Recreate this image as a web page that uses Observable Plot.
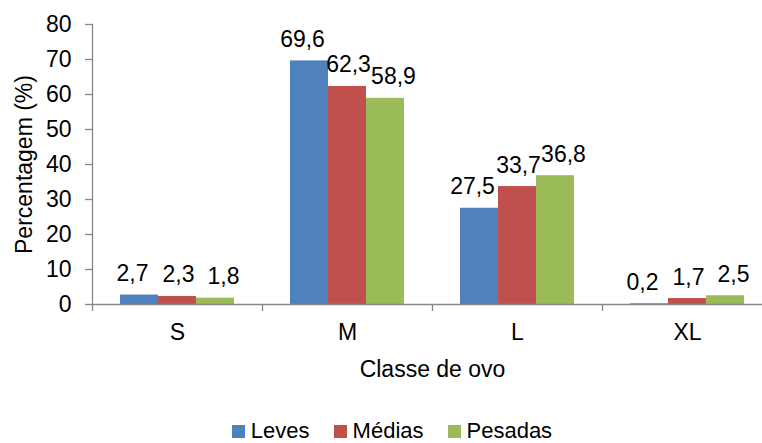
<!DOCTYPE html>
<html>
<head>
<meta charset="utf-8">
<script src="https://cdn.jsdelivr.net/npm/d3@7"></script>
<script src="https://cdn.jsdelivr.net/npm/@observablehq/plot@0.6"></script>
<style>
  html, body { margin: 0; padding: 0; background: white; overflow: hidden; width: 762px; height: 443px; }
  #legend { display: flex; justify-content: center; padding-left: 22px; font-family: "Liberation Sans", Arial, sans-serif; font-size: 22px; line-height: 16px; height: 16px; color: black; }
  .item { display: flex; align-items: center; margin: 0 12px; }
  .sw { width: 13px; height: 13px; margin-right: 6px; }
</style>
</head>
<body>
<div id="chart"></div>
<div id="legend"></div>
<script>
const classes = ["S", "M", "L", "XL"];
const seriesNames = ["Leves", "Médias", "Pesadas"];
const leves = [2.7, 69.6, 27.5, 0.2];
const medias = [2.3, 62.3, 33.7, 1.7];
const pesadas = [1.8, 58.9, 36.8, 2.5];
const yTicks = [0, 10, 20, 30, 40, 50, 60, 70, 80];
const colors = ["#4F81BD", "#C0504D", "#9BBB59"];
const labelShift = [-7, 1, 8];
const axisGrey = "#888888";

const seriesValues = [leves, medias, pesadas];
const data = [];
classes.forEach((c, i) => {
  seriesNames.forEach((s, j) => {
    data.push({cls: c, series: s, value: seriesValues[j][i]});
  });
});
const fmt = v => v.toFixed(1).replace(".", ",");

const valueLabels = seriesNames.map((s, j) =>
  Plot.text(data.filter(d => d.series === s), {
    fx: "cls", x: "series", y: "value", text: d => fmt(d.value),
    lineAnchor: "bottom", dy: -14, dx: labelShift[j], fill: "black"
  })
);

const chart = Plot.plot({
  width: 762,
  height: 423,
  marginLeft: 92,
  marginRight: -10,
  marginTop: 24,
  marginBottom: 119,
  style: {fontFamily: "'Liberation Sans', Arial, sans-serif", fontSize: "23px", color: "black", background: "white"},
  fx: {domain: classes, padding: 0, label: null},
  x: {domain: seriesNames, paddingInner: 0, paddingOuter: 0.737, round: false, axis: null},
  y: {domain: [0, 80], label: null},
  color: {domain: seriesNames, range: colors},
  marks: [
    Plot.barY(data, {fx: "cls", x: "series", y: "value", fill: "series"}),
    Plot.ruleY([0], {stroke: axisGrey, strokeWidth: 1.3}),
    Plot.frame({anchor: "left", facet: "super", stroke: axisGrey, strokeWidth: 1.3}),
    Plot.axisY({ticks: yTicks, tickSize: 7, tickPadding: 14, tickFormat: d => String(d), stroke: axisGrey, strokeWidth: 1.3, fill: "black", label: null}),
    Plot.axisFx({anchor: "bottom", tickSize: 7, dx: -85, fill: "none", stroke: axisGrey, strokeWidth: 1.3, label: null}),
    Plot.axisFx({anchor: "bottom", tickSize: 0, tickPadding: 19, fill: "black", label: null}),
    ...valueLabels,
    Plot.text(["Percentagem (%)"], {facet: "super", frameAnchor: "left", rotate: -90, lineAnchor: "top", textAnchor: "middle", dx: -77, text: d => d, fill: "black"}),
    Plot.text(["Classe de ovo"], {facet: "super", frameAnchor: "bottom", lineAnchor: "bottom", dy: 72, text: d => d, fill: "black"})
  ]
});
document.getElementById("chart").appendChild(chart);

const legend = document.getElementById("legend");
seriesNames.forEach((s, j) => {
  const item = document.createElement("div");
  item.className = "item";
  const sw = document.createElement("span");
  sw.className = "sw";
  sw.style.background = colors[j];
  const t = document.createElement("span");
  t.textContent = s;
  item.appendChild(sw);
  item.appendChild(t);
  legend.appendChild(item);
});
</script>
</body>
</html>
